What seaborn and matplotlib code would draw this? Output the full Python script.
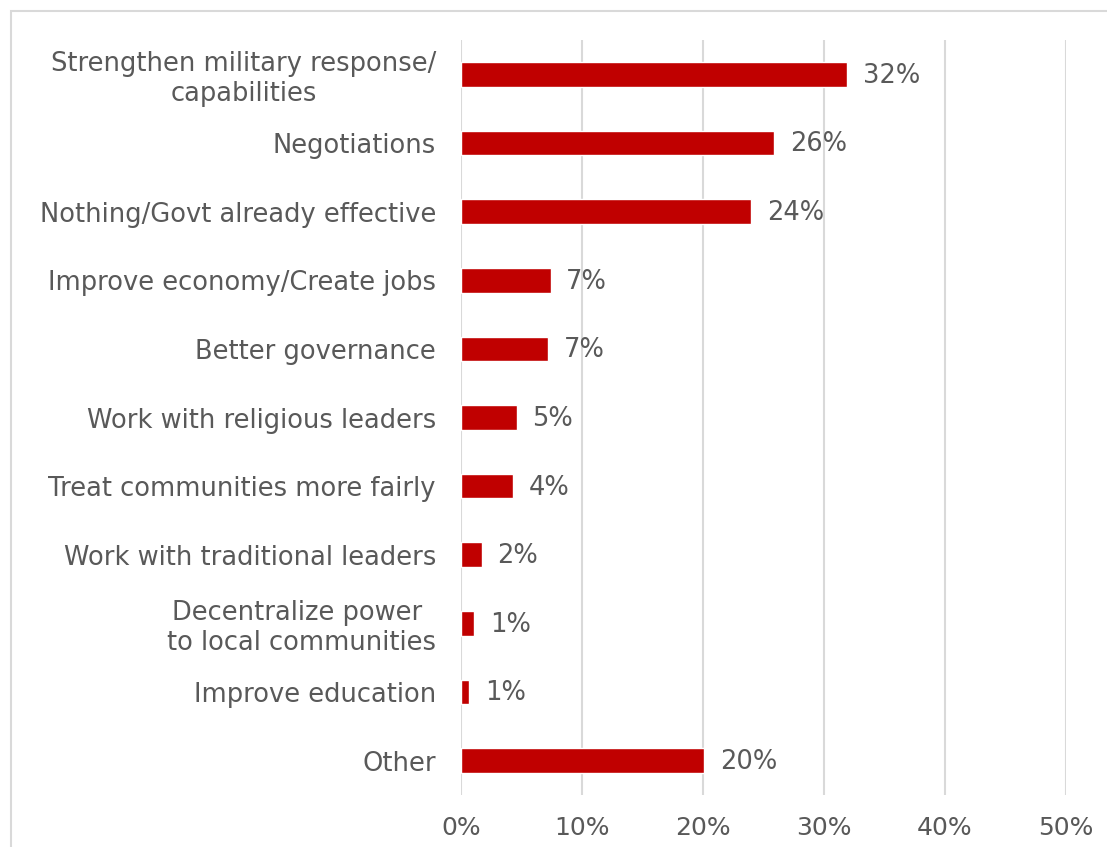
import matplotlib
matplotlib.use("Agg")
import matplotlib.pyplot as plt
from matplotlib.patches import Rectangle
import pandas as pd
import seaborn as sns

categories = [
    "Strengthen military response/\ncapabilities",
    "Negotiations",
    "Nothing/Govt already effective",
    "Improve economy/Create jobs",
    "Better governance",
    "Work with religious leaders",
    "Treat communities more fairly",
    "Work with traditional leaders",
    "Decentralize power \nto local communities",
    "Improve education",
    "Other",
]
values = [31.9, 25.9, 24.0, 7.4, 7.2, 4.6, 4.3, 1.7, 1.1, 0.7, 20.1]
x_ticks = [0, 10, 20, 30, 40, 50]

BAR = "#C00000"
TEXT = "#595959"
GRID = "#D9D9D9"
FS = 18.5

sns.set_theme(style="white")
plt.rcParams["font.family"] = ["DejaVu Sans"]

df = pd.DataFrame({"category": categories, "value": values})

fig = plt.figure(figsize=(11.07, 8.47), dpi=100)
ax = fig.add_axes([461 / 1107, 1 - 795 / 847, (1066 - 461) / 1107, (795 - 40) / 847])

sns.barplot(data=df, y="category", x="value", orient="h", color=BAR,
            width=0.36, saturation=1, ax=ax)

ax.set_xlim(0, 50)
ax.set_ylim(len(categories) - 0.5, -0.5)
ax.set_xticks(x_ticks)
ax.set_xticklabels([f"{t}%" for t in x_ticks], fontsize=FS - 0.5, color=TEXT)
ax.tick_params(axis="x", length=0, pad=15)
ax.tick_params(axis="y", length=0, pad=18)
ax.set_yticks(range(len(categories)))
ax.set_yticklabels(categories, fontsize=FS, color=TEXT,
                   multialignment="center", linespacing=1.2)
ax.set_xlabel("")
ax.set_ylabel("")

ax.grid(axis="x", color=GRID, linewidth=1.5)
ax.grid(axis="y", visible=False)
ax.set_axisbelow(True)
for s in ax.spines.values():
    s.set_visible(False)

for i, v in enumerate(values):
    ax.text(v + 1.3, i + 0.02, f"{v:.0f}%", va="center", ha="left",
            fontsize=FS, color=TEXT)

# thin frame around the chart area
fig.patches.append(Rectangle((11 / 1107, -0.1), 1.2, 1 - 11 / 847 + 0.1,
                             transform=fig.transFigure, fill=False,
                             edgecolor=GRID, linewidth=1.5))

fig.savefig("out.png", dpi=100)
